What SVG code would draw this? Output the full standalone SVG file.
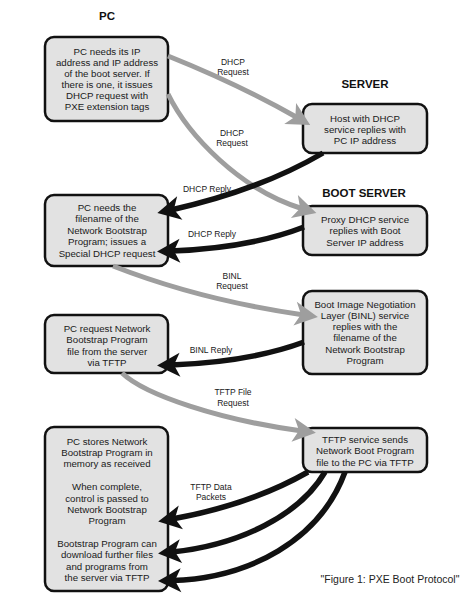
<svg xmlns="http://www.w3.org/2000/svg" width="474" height="599" viewBox="0 0 474 599">
<style>
.box{fill:#e2e2e2;stroke:#111;stroke-width:2.5}
.t{font-family:"Liberation Sans",Arial,sans-serif;font-size:9.7px;fill:#1a1a1a;text-anchor:middle}
.h{font-family:"Liberation Sans",Arial,sans-serif;font-size:11.5px;font-weight:bold;fill:#111;text-anchor:middle}
.l{font-family:"Liberation Sans",Arial,sans-serif;font-size:8.5px;fill:#1a1a1a;text-anchor:middle}
.cap{font-family:"Liberation Sans",Arial,sans-serif;font-size:10.5px;fill:#222;text-anchor:middle}
.g{fill:none;stroke:#9e9e9e;stroke-width:5}
.k{fill:none;stroke:#111;stroke-width:5.5}
</style>
<defs>
<marker id="ag" markerUnits="userSpaceOnUse" markerWidth="40" markerHeight="40" viewBox="-20 -20 40 40" refX="0" refY="0" orient="auto">
<path d="M14,0 L-9,-12 L-3,0 L-9,12 Z" fill="#9e9e9e"/>
</marker>
<marker id="ak" markerUnits="userSpaceOnUse" markerWidth="40" markerHeight="40" viewBox="-20 -20 40 40" refX="0" refY="0" orient="auto">
<path d="M14,0 L-9,-12 L-3,0 L-9,12 Z" fill="#111"/>
</marker>
</defs>
<rect width="474" height="599" fill="#fff"/>

<text class="h" x="107" y="20">PC</text>
<text class="h" x="365" y="88">SERVER</text>
<text class="h" x="364" y="197">BOOT SERVER</text>

<g id="pc1">
<rect class="box" x="45" y="37" width="123" height="84" rx="9"/>
<text class="t" x="107" y="54.5">PC needs its IP</text>
<text class="t" x="107" y="65.5">address and IP address</text>
<text class="t" x="107" y="76.5">of the boot server. If</text>
<text class="t" x="107" y="87.5">there is one, it issues</text>
<text class="t" x="107" y="98.5">DHCP request with</text>
<text class="t" x="107" y="109.5">PXE extension tags</text>
</g>

<g id="server">
<rect class="box" x="303" y="104" width="124" height="49" rx="9"/>
<text class="t" x="365" y="122">Host with DHCP</text>
<text class="t" x="365" y="133">service replies with</text>
<text class="t" x="365" y="144">PC IP address</text>
</g>

<g id="bootserver">
<rect class="box" x="303" y="206" width="124" height="49" rx="9"/>
<text class="t" x="365" y="223">Proxy DHCP service</text>
<text class="t" x="365" y="234">replies with Boot</text>
<text class="t" x="365" y="245.5">Server IP address</text>
</g>

<g id="pc2">
<rect class="box" x="45" y="195" width="123" height="71" rx="9"/>
<text class="t" x="107" y="210.5">PC needs the</text>
<text class="t" x="107" y="222">filename of the</text>
<text class="t" x="107" y="233.5">Network Bootstrap</text>
<text class="t" x="107" y="245">Program; issues a</text>
<text class="t" x="107" y="256.5">Special DHCP request</text>
</g>

<g id="binl">
<rect class="box" x="303" y="291" width="124" height="83" rx="9"/>
<text class="t" x="365" y="307.5">Boot Image Negotiation</text>
<text class="t" x="365" y="318.8">Layer (BINL) service</text>
<text class="t" x="365" y="330.1">replies with the</text>
<text class="t" x="365" y="341.4">filename of the</text>
<text class="t" x="365" y="352.7">Network Bootstrap</text>
<text class="t" x="365" y="364">Program</text>
</g>

<g id="pc3">
<rect class="box" x="45" y="315" width="123" height="58" rx="9"/>
<text class="t" x="107" y="331.5">PC request Network</text>
<text class="t" x="107" y="343">Bootstrap Program</text>
<text class="t" x="107" y="354.5">file from the server</text>
<text class="t" x="107" y="366">via TFTP</text>
</g>

<g id="tftp">
<rect class="box" x="303" y="428" width="124" height="44" rx="9"/>
<text class="t" x="365" y="443">TFTP service sends</text>
<text class="t" x="365" y="454.3">Network Boot Program</text>
<text class="t" x="365" y="465.5">file to the PC via TFTP</text>
</g>

<g id="pc4">
<rect class="box" x="45" y="427" width="123" height="164" rx="9"/>
<text class="t" x="107" y="444.5">PC stores Network</text>
<text class="t" x="107" y="455.8">Bootstrap Program in</text>
<text class="t" x="107" y="467">memory as received</text>
<text class="t" x="107" y="490.3">When complete,</text>
<text class="t" x="107" y="501.5">control is passed to</text>
<text class="t" x="107" y="512.8">Network Bootstrap</text>
<text class="t" x="107" y="524">Program</text>
<text class="t" x="107" y="547">Bootstrap Program can</text>
<text class="t" x="107" y="558.2">download further files</text>
<text class="t" x="107" y="569.5">and programs from</text>
<text class="t" x="107" y="580.7">the server via TFTP</text>
</g>

<g id="connectors">
<path class="g" d="M168,56 Q238,84 298,118" marker-end="url(#ag)"/>
<path class="g" d="M168,94 C188,135 240,190 303,209" marker-end="url(#ag)"/>
<path class="k" d="M323,153 Q260,190 171,210" marker-end="url(#ak)"/>
<path class="k" d="M304,227 Q250,248 171,251" marker-end="url(#ak)"/>
<path class="g" d="M113,266 Q200,300 304,315" marker-end="url(#ag)"/>
<path class="k" d="M304,342 Q250,362 171,365" marker-end="url(#ak)"/>
<path class="g" d="M122,373 C145,395 220,420 302,431" marker-end="url(#ag)"/>
<path class="k" d="M308,472 Q250,505 172,519" marker-end="url(#ak)"/>
<path class="k" d="M325,472 C300,515 240,545 172,552" marker-end="url(#ak)"/>
<path class="k" d="M345,472 C320,540 250,578 172,580.5" marker-end="url(#ak)"/>

<text class="l" x="233" y="65">DHCP</text>
<text class="l" x="233" y="74.5">Request</text>
<text class="l" x="232" y="135.5">DHCP</text>
<text class="l" x="232" y="146">Request</text>
<text class="l" x="207" y="191.5">DHCP Reply</text>
<text class="l" x="212" y="237">DHCP Reply</text>
<text class="l" x="232" y="279">BINL</text>
<text class="l" x="232" y="289">Request</text>
<text class="l" x="211" y="353">BINL Reply</text>
<text class="l" x="233" y="395">TFTP File</text>
<text class="l" x="233" y="405.5">Request</text>
<text class="l" x="211" y="490">TFTP Data</text>
<text class="l" x="211" y="499.5">Packets</text>
</g>

<text class="cap" x="390" y="583">"Figure 1: PXE Boot Protocol"</text>
</svg>
